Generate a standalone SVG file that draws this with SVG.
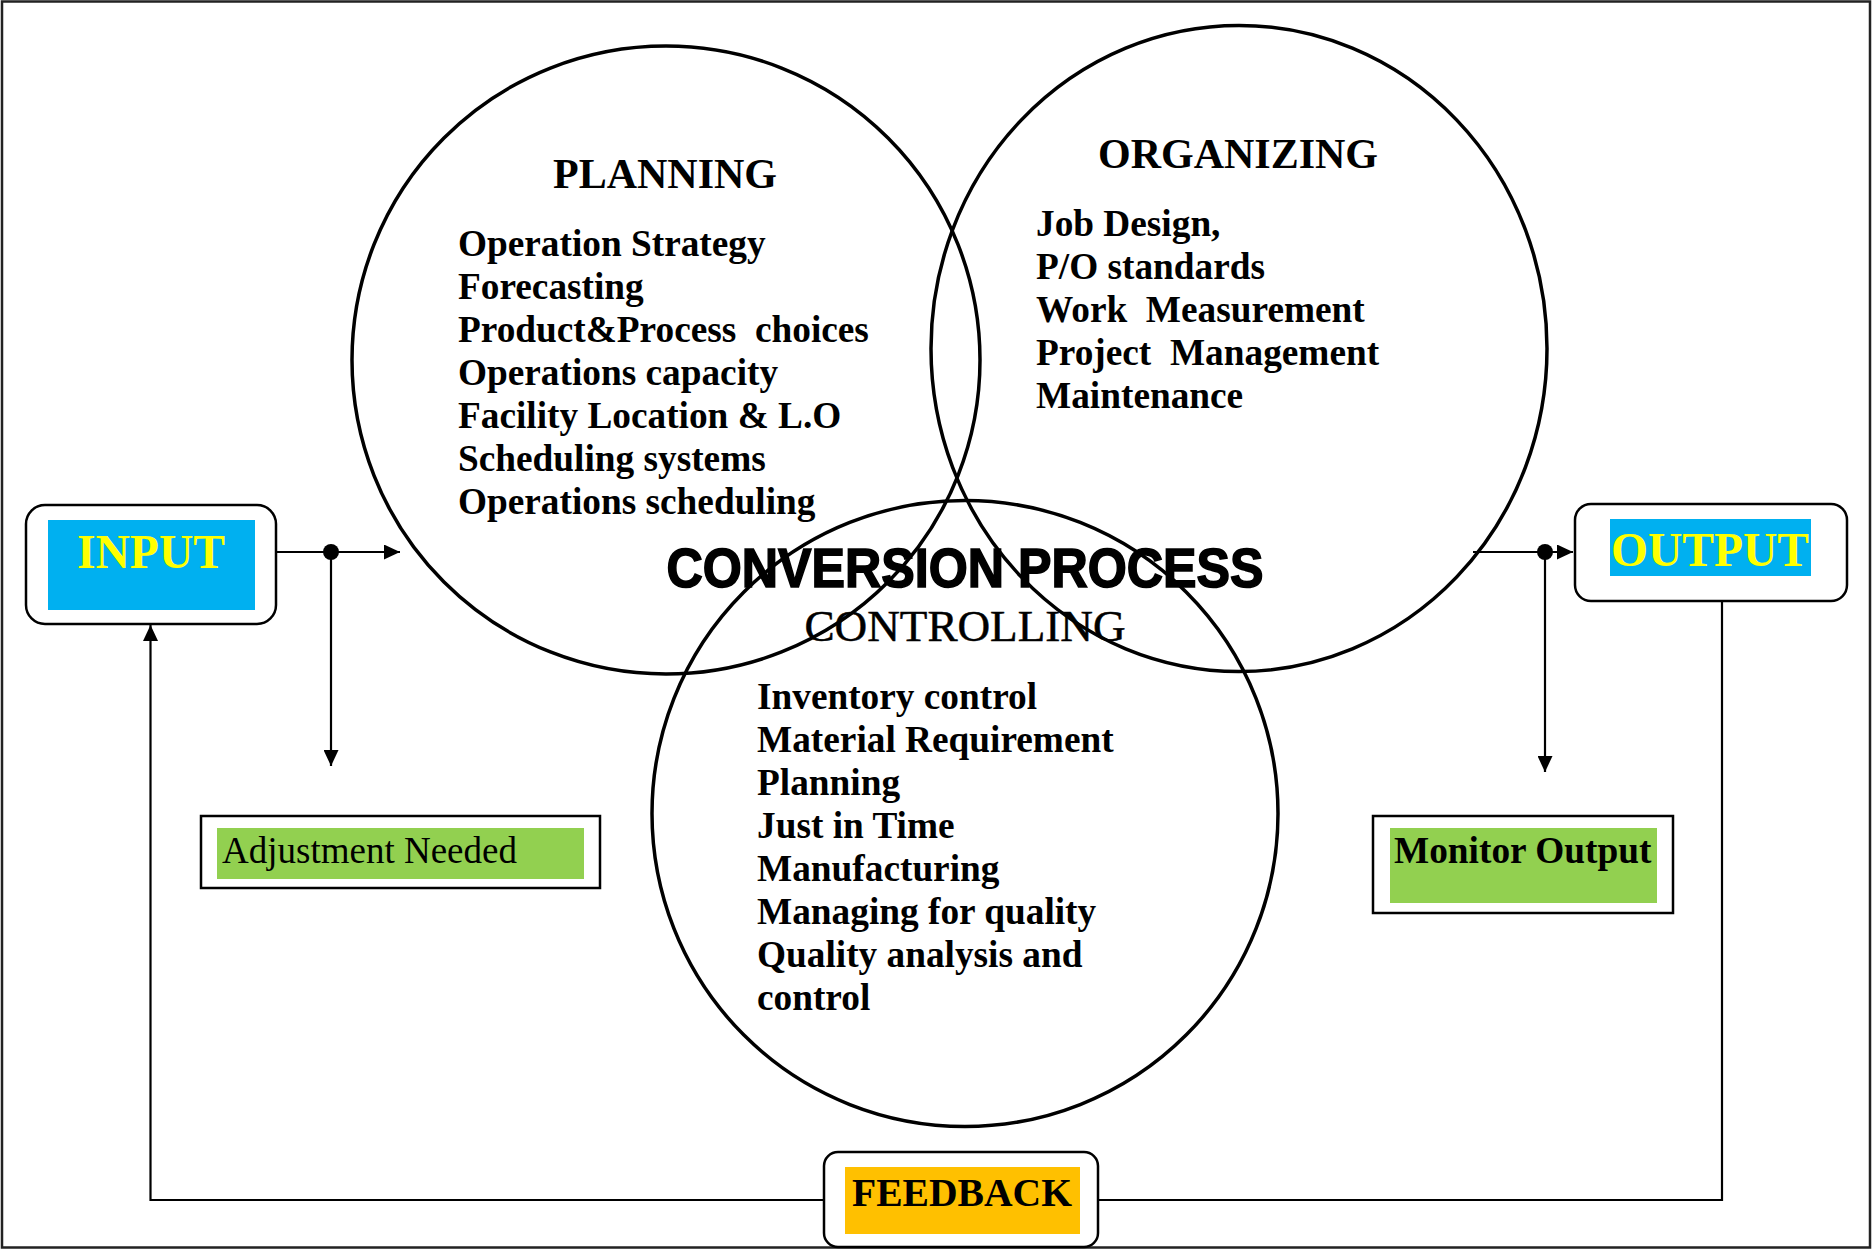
<svg xmlns="http://www.w3.org/2000/svg" width="1872" height="1250" viewBox="0 0 1872 1250">
<style>
.circ{fill:none;stroke:#000;stroke-width:3.5}
.box{fill:#fff;stroke:#000;stroke-width:2.5}
.ln{fill:none;stroke:#000;stroke-width:2.2}
.serif{font-family:"Liberation Serif","Times New Roman",serif;white-space:pre}
.bd{font-weight:bold}
.body{font-size:37.3px;font-weight:bold}
.title{font-size:42px;font-weight:bold;text-anchor:middle}
</style>
<defs>
<marker id="ah" markerUnits="userSpaceOnUse" viewBox="0 0 16 15" refX="16" refY="7.5" markerWidth="16" markerHeight="15" orient="auto">
<path d="M0,0 L16,7.5 L0,15 z" fill="#000"/>
</marker>
</defs>
<rect x="2" y="1.5" width="1868" height="1246" fill="#fff" stroke="#222" stroke-width="2.5"/>

<g id="circles">
<circle id="planning-circle" class="circ" cx="666" cy="360" r="314"/>
<ellipse id="organizing-circle" class="circ" cx="1239" cy="348.5" rx="308" ry="323"/>
<circle id="controlling-circle" class="circ" cx="965" cy="813.5" r="313"/>
</g>

<g id="connectors">
<line class="ln" x1="276" y1="552" x2="400" y2="552" marker-end="url(#ah)"/>
<circle cx="331" cy="552" r="8" fill="#000"/>
<line class="ln" x1="331" y1="552" x2="331" y2="766" marker-end="url(#ah)"/>
<line class="ln" x1="1473" y1="552" x2="1573" y2="552" marker-end="url(#ah)"/>
<circle cx="1545" cy="552" r="8" fill="#000"/>
<line class="ln" x1="1545" y1="552" x2="1545" y2="772" marker-end="url(#ah)"/>
<polyline class="ln" points="1722,601 1722,1200 1098,1200"/>
<polyline class="ln" points="824,1200 150.5,1200 150.5,625" marker-end="url(#ah)"/>
</g>

<g id="input">
<rect class="box" x="26" y="505" width="250" height="119" rx="19"/>
<rect x="48" y="520" width="207" height="90" fill="#00B0F0"/>
<text class="serif bd" x="151" y="568" font-size="48" fill="#FFFF00" text-anchor="middle" textLength="148" lengthAdjust="spacingAndGlyphs">INPUT</text>
</g>

<g id="output">
<rect class="box" x="1575" y="504" width="272" height="97" rx="16"/>
<rect x="1610" y="519" width="201" height="57" fill="#00B0F0"/>
<text class="serif bd" x="1710" y="566" font-size="48" fill="#FFFF00" text-anchor="middle" textLength="198" lengthAdjust="spacingAndGlyphs">OUTPUT</text>
</g>

<g id="adjustment">
<rect class="box" x="201" y="816" width="399" height="72"/>
<rect x="217" y="828" width="367" height="51" fill="#92D050"/>
<text class="serif" x="222" y="863" font-size="37">Adjustment Needed</text>
</g>

<g id="monitor">
<rect class="box" x="1373" y="816" width="300" height="97"/>
<rect x="1390" y="828" width="267" height="75" fill="#92D050"/>
<text class="serif bd" x="1394" y="863" font-size="37.3">Monitor Output</text>
</g>

<g id="feedback">
<rect class="box" x="824" y="1152" width="274" height="95" rx="14"/>
<rect x="845" y="1167" width="235" height="67" fill="#FFC000"/>
<text class="serif bd" x="962" y="1206" font-size="40" text-anchor="middle" textLength="220" lengthAdjust="spacingAndGlyphs">FEEDBACK</text>
</g>

<g id="planning">
<text class="serif title" x="665" y="188">PLANNING</text>
<text class="serif body" x="458" y="255.5">Operation Strategy</text>
<text class="serif body" x="458" y="298.5">Forecasting</text>
<text class="serif body" x="458" y="341.5">Product&amp;Process  choices</text>
<text class="serif body" x="458" y="384.5">Operations capacity</text>
<text class="serif body" x="458" y="427.5">Facility Location &amp; L.O</text>
<text class="serif body" x="458" y="470.5">Scheduling systems</text>
<text class="serif body" x="458" y="513.5">Operations scheduling</text>
</g>

<g id="organizing">
<text class="serif title" x="1238" y="168">ORGANIZING</text>
<text class="serif body" x="1036" y="236">Job Design,</text>
<text class="serif body" x="1036" y="279">P/O standards</text>
<text class="serif body" x="1036" y="322">Work  Measurement</text>
<text class="serif body" x="1036" y="365">Project  Management</text>
<text class="serif body" x="1036" y="408">Maintenance</text>
</g>

<g id="conversion">
<text x="965" y="587" font-family="'Liberation Sans',Arial,sans-serif" font-weight="bold" font-size="55" text-anchor="middle" stroke="#000" stroke-width="1.6" textLength="597" lengthAdjust="spacingAndGlyphs">CONVERSION PROCESS</text>
</g>

<g id="controlling">
<text class="serif" x="965" y="641" font-size="44" text-anchor="middle" stroke="#000" stroke-width="0.5" textLength="321" lengthAdjust="spacingAndGlyphs">CONTROLLING</text>
<text class="serif body" x="757" y="709">Inventory control</text>
<text class="serif body" x="757" y="752">Material Requirement</text>
<text class="serif body" x="757" y="795">Planning</text>
<text class="serif body" x="757" y="838">Just in Time</text>
<text class="serif body" x="757" y="881">Manufacturing</text>
<text class="serif body" x="757" y="924">Managing for quality</text>
<text class="serif body" x="757" y="967">Quality analysis and</text>
<text class="serif body" x="757" y="1010">control</text>
</g>
</svg>
